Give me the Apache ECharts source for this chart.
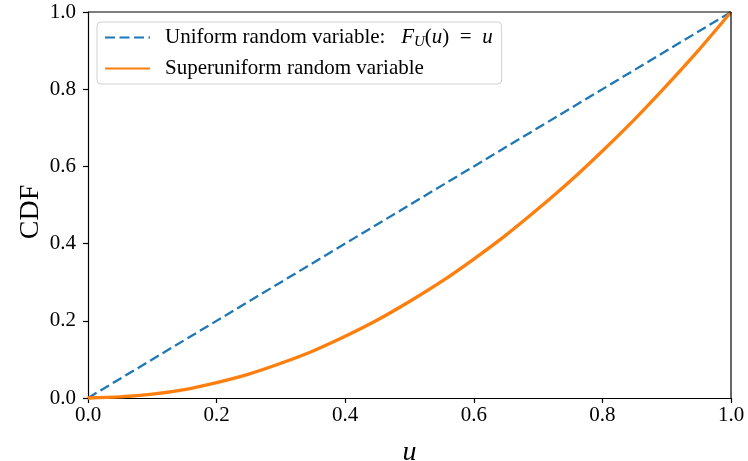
<!DOCTYPE html>
<html><head><meta charset="utf-8">
<script src="https://cdn.jsdelivr.net/npm/echarts@6/dist/echarts.min.js"></script>
<style>html,body{margin:0;padding:0;background:#fff}#c{width:748px;height:461px}</style>
</head><body><div id="c"></div>
<script>
var xTicks = [0, 0.2, 0.4, 0.6, 0.8, 1.0];
var uniformU = [0, 1];
var uniformF = [0, 1];
var superU = [0, 0.05, 0.1, 0.15, 0.2, 0.25, 0.3, 0.35, 0.4, 0.45, 0.5, 0.55, 0.6, 0.65, 0.7, 0.75, 0.8, 0.85, 0.9, 0.95, 1.0];
var superF = [0, 0.003, 0.01, 0.022, 0.04, 0.062, 0.09, 0.122, 0.16, 0.202, 0.25, 0.302, 0.36, 0.422, 0.49, 0.562, 0.64, 0.722, 0.81, 0.902, 1.0];
var seriesNames = ['Uniform random variable', 'Superuniform random variable'];

var FONT = 'Liberation Serif';
function pairs(a, b) { return a.map(function (v, i) { return [v, b[i]]; }); }

var chart = echarts.init(document.getElementById('c'), null, {renderer: 'canvas'});
chart.setOption({
  animation: false,
  backgroundColor: '#fff',
  grid: {left: 88, right: 17, top: 12, bottom: 63, containLabel: false, outerBoundsMode: 'none'},
  xAxis: {
    type: 'value', min: 0, max: 1, interval: 0.2,
    name: 'u', nameLocation: 'middle', nameGap: 41, nameMoveOverlap: false,
    nameTextStyle: {fontFamily: FONT, fontStyle: 'italic', fontSize: 28, color: '#000'},
    axisLine: {show: true, onZero: false, lineStyle: {color: '#000', width: 1.2}},
    axisTick: {show: true, inside: false, length: 5, lineStyle: {color: '#000', width: 1.2}},
    axisLabel: {fontFamily: FONT, fontSize: 21, color: '#000', margin: 7,
      formatter: function (v) { return v.toFixed(1); }},
    splitLine: {show: false}
  },
  yAxis: {
    type: 'value', min: 0, max: 1, interval: 0.2,
    name: 'CDF', nameLocation: 'middle', nameGap: 43, nameRotate: 90, nameMoveOverlap: false,
    nameTextStyle: {fontFamily: FONT, fontSize: 28, color: '#000', padding: [0, 14, 0, 0]},
    axisLine: {show: true, onZero: false, lineStyle: {color: '#000', width: 1.2}},
    axisTick: {show: true, inside: false, length: 5, lineStyle: {color: '#000', width: 1.2}},
    axisLabel: {fontFamily: FONT, fontSize: 21, color: '#000', margin: 12,
      formatter: function (v) { return v.toFixed(1); }},
    splitLine: {show: false}
  },
  legend: {
    left: 97, top: 22, orient: 'vertical',
    itemWidth: 45, itemHeight: 22, itemGap: 8,
    padding: [5, 9, 5, 7],
    borderColor: '#d0d0d0', borderWidth: 1, borderRadius: 4,
    backgroundColor: 'rgba(255,255,255,0.8)',
    itemStyle: {opacity: 0},
    data: [seriesNames[0], seriesNames[1]],
    formatter: function (name) {
      if (name === seriesNames[0]) {
        return 'Uniform random variable:   {i|F}{s|U}{n|(}{i|u}{n|)  =  }{i|u}';
      }
      return name;
    },
    textStyle: {
      fontFamily: FONT, fontSize: 21, color: '#000', padding: [0, 0, 0, 10],
      rich: {
        i: {fontFamily: FONT, fontStyle: 'italic', fontSize: 21, color: '#000'},
        s: {fontFamily: FONT, fontStyle: 'italic', fontSize: 15, color: '#000', padding: [10, 0, 0, 0]},
        n: {fontFamily: FONT, fontSize: 21, color: '#000'}
      }
    }
  },
  series: [
    {
      name: seriesNames[0], type: 'line', data: pairs(uniformU, uniformF),
      showSymbol: false, symbol: 'none', clip: false,
      lineStyle: {color: '#1f77b4', width: 2.3, type: [10, 4.5]},
      itemStyle: {color: '#1f77b4'}, z: 2
    },
    {
      name: seriesNames[1], type: 'line', data: pairs(superU, superF),
      showSymbol: false, symbol: 'none', smooth: 0.3, clip: false,
      lineStyle: {color: '#ff7f0e', width: 3.3},
      itemStyle: {color: '#ff7f0e'}, z: 3
    }
  ]
});
(function(){
  var tl = chart.convertToPixel({gridIndex: 0}, [0, 1]);
  var br = chart.convertToPixel({gridIndex: 0}, [1, 0]);
  chart.setOption({graphic: [
    {type: 'line', shape: {x1: tl[0], y1: tl[1], x2: br[0], y2: tl[1]}, style: {stroke: '#000', lineWidth: 1.2}, z: 10},
    {type: 'line', shape: {x1: br[0], y1: tl[1], x2: br[0], y2: br[1]}, style: {stroke: '#000', lineWidth: 1.2}, z: 10}
  ]});
})();
</script>
</body></html>
